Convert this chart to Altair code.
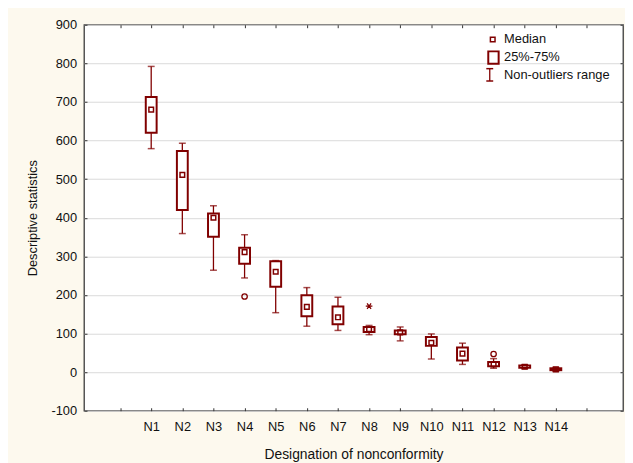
import json
import altair as alt
import pandas as pd

# ---- data ----
categories = ["N1", "N2", "N3", "N4", "N5", "N6", "N7", "N8", "N9", "N10", "N11", "N12", "N13", "N14"]
whisker_low = [579, 359, 264, 244, 154, 119, 108, 97, 81, 34, 20, 10, 9, 2]
q1 = [620, 420, 351, 281, 221, 145, 124, 104, 98, 68, 30, 15, 11, 5]
median = [680, 511, 400, 311, 260, 169, 142, 111, 103, 76, 48, 20, 14, 7]
q3 = [713, 573, 411, 322, 287, 199, 170, 117, 108, 91, 64, 26, 17, 10]
whisker_high = [792, 593, 431, 356, 289, 219, 194, 121, 117, 99, 75, 35, 19, 12]
outlier_cats = ["N4", "N12"]
outlier_vals = [196, 47]
extreme_cats = ["N8"]
extreme_vals = [171]
y_ticks = [-100, 0, 100, 200, 300, 400, 500, 600, 700, 800, 900]
legend_labels = ["Median", "25%-75%", "Non-outliers range"]
x_title = "Designation of nonconformity"
y_title = "Descriptive statistics"

MAROON = "#800000"
FONT = "Liberation Sans"
n = len(categories)
index = {c: i + 1 for i, c in enumerate(categories)}

df = pd.DataFrame({
    "cat": categories,
    "pos": [index[c] for c in categories],
    "wlo": whisker_low,
    "q1": q1,
    "med": median,
    "q3": q3,
    "whi": whisker_high,
})
out_df = pd.DataFrame({"pos": [index[c] for c in outlier_cats], "v": outlier_vals})
ext_df = pd.DataFrame({"pos": [index[c] for c in extreme_cats], "v": extreme_vals})

x_scale = alt.Scale(domain=[-1, n + 2], nice=False, zero=False)
y_scale = alt.Scale(domain=[-100, 900], nice=False, zero=False)
x_vals = list(range(0, n + 2))
label_expr = f"datum.value >= 1 && datum.value <= {n} ? {json.dumps(categories)}[datum.value - 1] : ''"

W, H = 546, 391

x_axis = alt.Axis(
    values=x_vals, labelExpr=label_expr, title=x_title, orient="bottom",
    offset=-3, tickSize=3, domain=False, grid=False, labelPadding=10.5,
    labelFontSize=13, titleFontSize=14, titleFontWeight="normal",
    tickColor="#333333", labelColor="#111111", titleColor="#111111",
    titleX=W / 2, titleY=47.5, titleBaseline="middle", labelFlush=False,
    labelOverlap=False, labelFont=FONT, titleFont=FONT,
)
y_axis = alt.Axis(
    values=y_ticks, title=y_title, orient="left", offset=-3, tickSize=3,
    labelExpr="datum.value < 0 ? '-' + abs(datum.value) : '' + datum.value",
    domain=False, grid=True, gridColor="#D9D9D9", gridWidth=1,
    labelPadding=7.5, labelFontSize=13, titleFontSize=13, titleFontWeight="normal",
    tickColor="#333333", labelColor="#111111", titleColor="#111111",
    titleX=-54.7, titleY=H / 2, titleBaseline="middle", titleAngle=-90,
    labelFont=FONT, titleFont=FONT, labelFlush=False,
)
x_top = alt.Axis(values=x_vals, orient="top", offset=-3, tickSize=3, labels=False,
                 domain=False, grid=False, title=None, tickColor="#333333")
y_right = alt.Axis(values=y_ticks, orient="right", offset=-3, tickSize=3, labels=False,
                   domain=False, grid=False, title=None, tickColor="#333333")

base = alt.Chart(df)

# layer carrying the main axes (whisker line)
whisk = base.mark_rule(color=MAROON, strokeWidth=1.3).encode(
    x=alt.X("pos:Q", scale=x_scale, axis=x_axis),
    y=alt.Y("wlo:Q", scale=y_scale, axis=y_axis),
    y2="whi:Q",
)
# invisible layer carrying the frame ticks on top/right
frame = base.mark_point(opacity=0).encode(
    x=alt.X("pos:Q", scale=x_scale, axis=x_top),
    y=alt.Y("med:Q", scale=y_scale, axis=y_right),
)
cap_lo = base.mark_tick(orient="horizontal", size=7, thickness=1.5, color=MAROON).encode(
    x=alt.X("pos:Q", scale=x_scale, axis=None),
    y=alt.Y("wlo:Q", scale=y_scale, axis=None),
)
cap_hi = base.mark_tick(orient="horizontal", size=7, thickness=1.5, color=MAROON).encode(
    x=alt.X("pos:Q", scale=x_scale, axis=None),
    y=alt.Y("whi:Q", scale=y_scale, axis=None),
)
box = base.mark_bar(size=11, fill="white", stroke=MAROON, strokeWidth=2).encode(
    x=alt.X("pos:Q", scale=x_scale, axis=None),
    y=alt.Y("q1:Q", scale=y_scale, axis=None),
    y2="q3:Q",
)
med = base.mark_point(shape="square", size=22, filled=False, color=MAROON,
                      strokeWidth=1.5, opacity=1).encode(
    x=alt.X("pos:Q", scale=x_scale, axis=None),
    y=alt.Y("med:Q", scale=y_scale, axis=None),
)
outl = alt.Chart(out_df).mark_point(shape="circle", size=30, filled=False, color=MAROON,
                                    strokeWidth=1.3, opacity=1).encode(
    x=alt.X("pos:Q", scale=x_scale, axis=None),
    y=alt.Y("v:Q", scale=y_scale, axis=None),
)
star_path = "M-1,0L1,0M-0.6,-0.8L0.6,0.8M-0.6,0.8L0.6,-0.8"
ext = alt.Chart(ext_df).mark_point(shape=star_path, size=45, filled=False, color=MAROON,
                                   strokeWidth=1.3, opacity=1).encode(
    x=alt.X("pos:Q", scale=x_scale, axis=None),
    y=alt.Y("v:Q", scale=y_scale, axis=None),
)

# ---- legend (top-right, inside the plot) ----
one = alt.Data(values=[{"k": 0}])
leg_med = alt.Chart(one).mark_point(shape="square", size=22, filled=False, color=MAROON,
                                    strokeWidth=1.5, opacity=1).encode(
    x=alt.value(414), y=alt.value(15))
leg_box = alt.Chart(one).mark_rect(fill="white", stroke=MAROON, strokeWidth=2).encode(
    x=alt.value(409.5), x2=alt.value(420), y=alt.value(27), y2=alt.value(39.5))
leg_wl = alt.Chart(one).mark_rule(color=MAROON, strokeWidth=1.3).encode(
    x=alt.value(411), y=alt.value(44.5), y2=alt.value(57))
leg_c1 = alt.Chart(one).mark_rule(color=MAROON, strokeWidth=1.5).encode(
    x=alt.value(407.5), x2=alt.value(414.5), y=alt.value(44.5))
leg_c2 = alt.Chart(one).mark_rule(color=MAROON, strokeWidth=1.5).encode(
    x=alt.value(407.5), x2=alt.value(414.5), y=alt.value(57))
leg_texts = [
    alt.Chart(one).mark_text(align="left", baseline="middle", fontSize=13, font=FONT,
                             color="#111111").encode(
        x=alt.value(425.5), y=alt.value(yv), text=alt.value(lbl))
    for lbl, yv in zip(legend_labels, [15, 33, 50.5])
]

chart = alt.layer(
    whisk, frame, cap_lo, cap_hi, box, med, outl, ext,
    leg_med, leg_box, leg_wl, leg_c1, leg_c2, *leg_texts,
).resolve_axis(x="independent", y="independent").properties(
    width=W, height=H,
    autosize=alt.AutoSizeParams(type="none"),
    padding={"left": 77, "top": 14, "right": 2, "bottom": 50},
    background="#FDF9EE",
).configure_view(
    fill="white", stroke="#3A3A3A", strokeWidth=1.3,
)

chart.save("out.html", embed_options={"renderer": "svg", "actions": False})
